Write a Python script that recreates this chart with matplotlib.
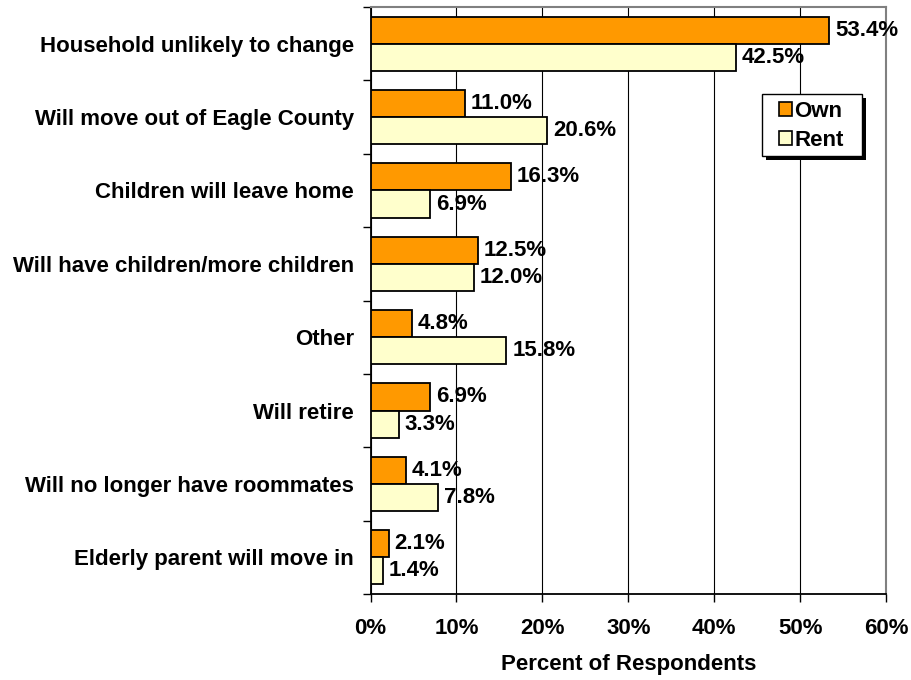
import numpy as np
import matplotlib
matplotlib.use("Agg")
import matplotlib.pyplot as plt
from matplotlib.patches import Rectangle, Patch
from matplotlib.ticker import FixedLocator, NullFormatter

categories = [
    "Household unlikely to change",
    "Will move out of Eagle County",
    "Children will leave home",
    "Will have children/more children",
    "Other",
    "Will retire",
    "Will no longer have roommates",
    "Elderly parent will move in",
]
own = [53.4, 11.0, 16.3, 12.5, 4.8, 6.9, 4.1, 2.1]
rent = [42.5, 20.6, 6.9, 12.0, 15.8, 3.3, 7.8, 1.4]
series_names = ["Own", "Rent"]
x_ticks = [0, 10, 20, 30, 40, 50, 60]

plt.rcParams["font.family"] = ["Liberation Sans", "DejaVu Sans"]
plt.rcParams["font.weight"] = "bold"

W, H = 911, 680
fig = plt.figure(figsize=(W / 100, H / 100), dpi=100)
left, right, top, bottom = 370.5, 886, 7, 594
ax = fig.add_axes([left / W, 1 - bottom / H, (right - left) / W, (bottom - top) / H])

n = len(categories)
pos = np.arange(n)
h = 0.37
own_color = "#FF9900"
rent_color = "#FFFFCC"
fs = 16

b1 = ax.barh(pos - h / 2, own, height=h, color=own_color, edgecolor="black",
             linewidth=1.3, zorder=3)
b2 = ax.barh(pos + h / 2, rent, height=h, color=rent_color, edgecolor="black",
             linewidth=1.3, zorder=3)

for bars, vals in ((b1, own), (b2, rent)):
    for bar, v in zip(bars, vals):
        ax.text(v + 0.7, bar.get_y() + bar.get_height() / 2, f"{v:.1f}%",
                va="center", ha="left", fontsize=fs, fontweight="bold", zorder=4)

ax.set_xlim(0, 60)
ax.set_ylim(n - 0.5, -0.5)
ax.set_xticks(x_ticks)
ax.set_xticklabels([f"{t}%" for t in x_ticks], fontsize=fs, fontweight="bold")
ax.tick_params(axis="x", length=6, width=1, pad=11, color="black")

ax.yaxis.set_major_locator(FixedLocator(pos))
ax.set_yticklabels(categories, fontsize=fs, fontweight="bold")
ax.tick_params(axis="y", which="major", length=0, pad=12)
ax.yaxis.set_minor_locator(FixedLocator(np.arange(n + 1) - 0.5))
ax.yaxis.set_minor_formatter(NullFormatter())
ax.tick_params(axis="y", which="minor", length=6, width=1, color="black")

ax.grid(axis="x", color="black", linewidth=0.8, zorder=0)
ax.set_axisbelow(True)
for side in ("top", "right"):
    ax.spines[side].set_color("#808080")
    ax.spines[side].set_linewidth(1.5)
for side in ("left", "bottom"):
    ax.spines[side].set_color("black")
    ax.spines[side].set_linewidth(1.3)

ax.set_xlabel("Percent of Respondents", fontsize=fs, fontweight="bold", labelpad=11)

# Legend box with a solid drop shadow
bx0, by0, bx1, by1 = 762, 94, 862, 156
sh = 4
fig.add_artist(Rectangle(((bx0 + sh) / W, 1 - (by1 + sh) / H), (bx1 - bx0) / W,
                         (by1 - by0) / H, transform=fig.transFigure,
                         facecolor="black", edgecolor="none", zorder=8))
fig.add_artist(Rectangle((bx0 / W, 1 - by1 / H), (bx1 - bx0) / W, (by1 - by0) / H,
                         transform=fig.transFigure, facecolor="white",
                         edgecolor="black", linewidth=1.0, zorder=9))

handles = [Patch(facecolor=own_color, edgecolor="black", linewidth=1.2),
           Patch(facecolor=rent_color, edgecolor="black", linewidth=1.2)]
fig.legend(handles, series_names, loc="upper left",
           bbox_to_anchor=(779 / W, 1 - 101 / H), bbox_transform=fig.transFigure,
           frameon=False, prop={"size": fs, "weight": "bold"},
           handlelength=0.6, handleheight=0.6, handletextpad=0.08,
           borderpad=0, labelspacing=0.36, borderaxespad=0).set_zorder(10)

fig.savefig("out.png", dpi=100)
